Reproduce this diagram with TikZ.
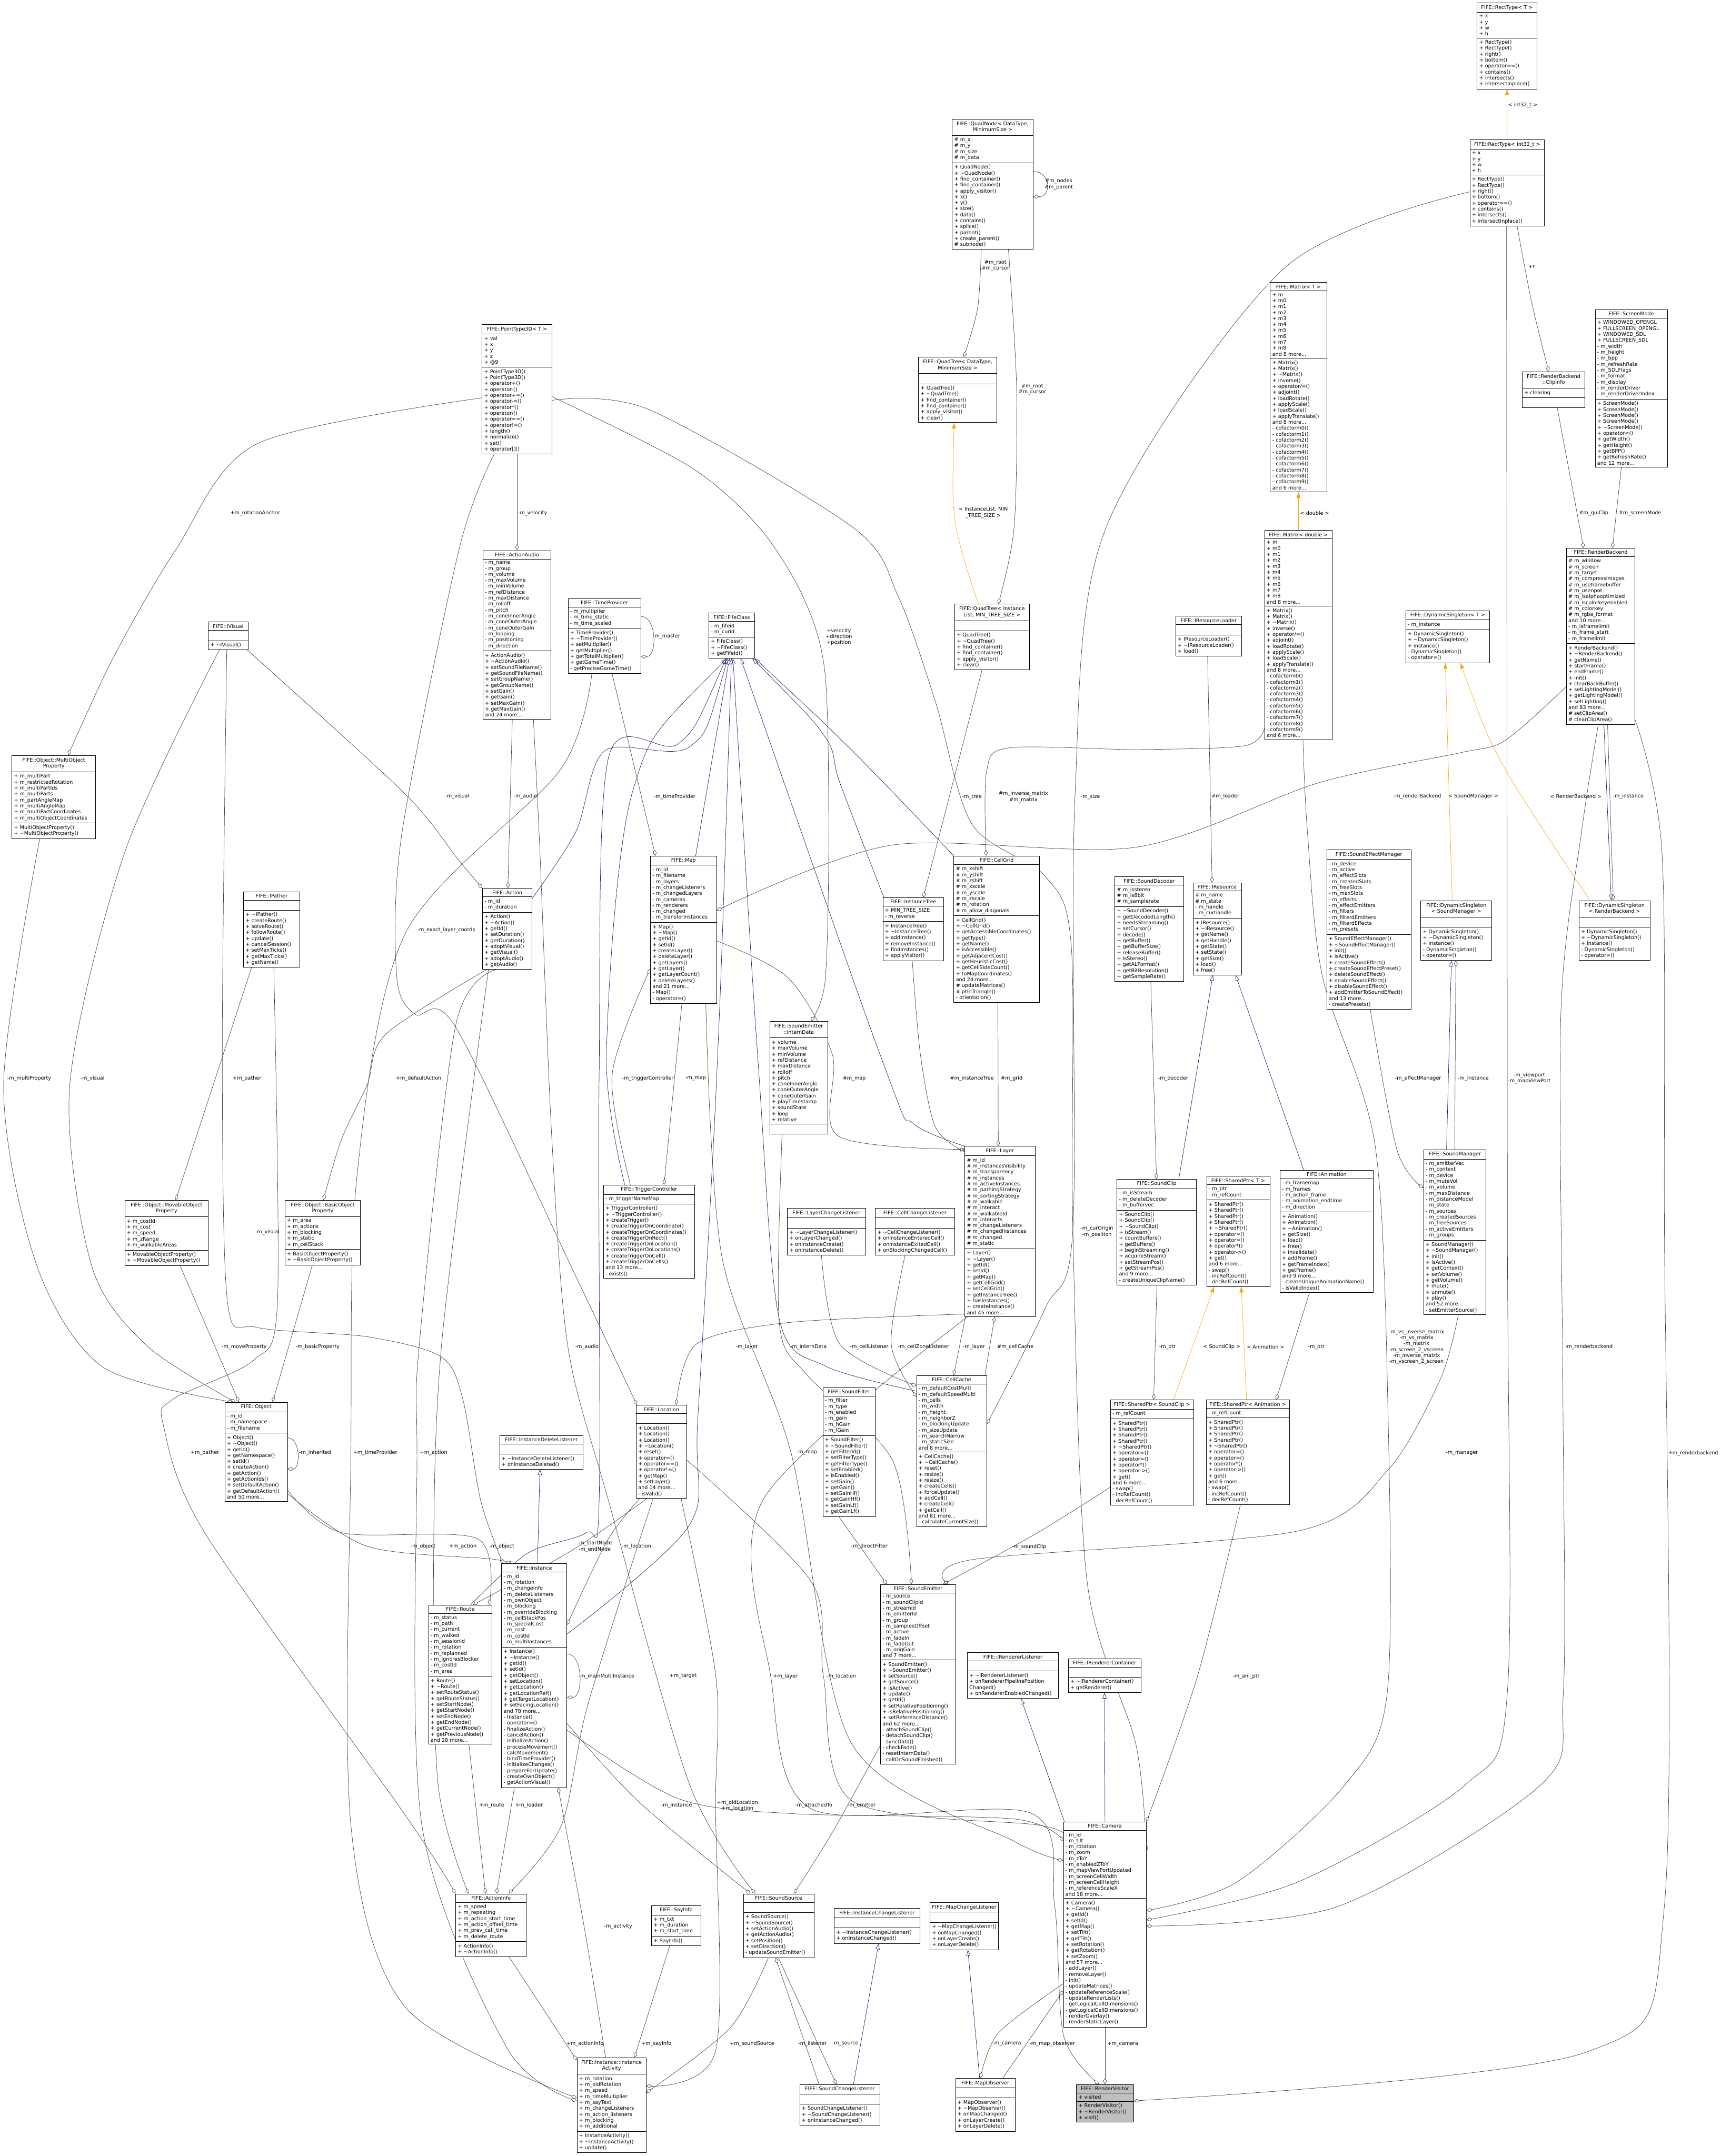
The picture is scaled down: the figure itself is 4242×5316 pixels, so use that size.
\documentclass[tikz,border=0pt]{standalone}
\usepackage{fontspec}
\usetikzlibrary{shapes.multipart,arrows.meta,backgrounds}
\newfontfamily\dxfamily{DejaVu Sans}
\newcommand\dxfont{\dxfamily\fontsize{12.5}{14.7}\selectfont}
\newcommand\ttl[1]{\begin{tabular}{@{}c@{}}#1\end{tabular}}
\definecolor{edgegray}{HTML}{404040}
\definecolor{inhblue}{HTML}{191970}
\definecolor{tplorange}{HTML}{FFA500}
\definecolor{hlgray}{HTML}{BFBFBF}
% repeated member lists
\newcommand\rectmeths{+ RectType()\\+ RectType()\\+ right()\\+ bottom()\\+ operator==()\\+ contains()\\+ intersects()\\+ intersectInplace()}
\newcommand\qtreemeths{+ QuadTree()\\+ \char126QuadTree()\\+ find\char95container()\\+ find\char95container()\\+ apply\char95visitor()\\+ clear()}
\newcommand\matattrs{+ m\\+ m0\\+ m1\\+ m2\\+ m3\\+ m4\\+ m5\\+ m6\\+ m7\\+ m8\\and 8 more...}
\newcommand\matmeths{+ Matrix()\\+ Matrix()\\+ \char126Matrix()\\+ inverse()\\+ operator/=()\\+ adjoint()\\+ loadRotate()\\+ applyScale()\\+ loadScale()\\+ applyTranslate()\\and 8 more...\\- cofactorm0()\\- cofactorm1()\\- cofactorm2()\\- cofactorm3()\\- cofactorm4()\\- cofactorm5()\\- cofactorm6()\\- cofactorm7()\\- cofactorm8()\\- cofactorm9()\\and 6 more...}
\newcommand\dsmeths{+ DynamicSingleton()\\+ \char126DynamicSingleton()\\+ instance()\\- DynamicSingleton()\\- operator=()}
\newcommand\sptrmeths{+ SharedPtr()\\+ SharedPtr()\\+ SharedPtr()\\+ SharedPtr()\\+ \char126SharedPtr()\\+ operator=()\\+ operator=()\\+ operator*()\\+ operator->()\\+ get()\\and 6 more...\\- swap()\\- incRefCount()\\- decRefCount()}
\begin{document}
\catcode`\_=12
\catcode`\~=12
\begin{tikzpicture}[x=1pt,y=1pt,
  cls/.style={draw, line width=1.1pt, fill=white, rectangle split, rectangle split parts=3,
    rectangle split part align={center,left,left}, rectangle split ignore empty parts=false,
    rectangle split empty part height=10pt, rectangle split empty part depth=4pt,
    align=left, inner xsep=5pt, inner ysep=5pt, anchor=north west, font=\dxfont},
  agg/.style={edgegray, line width=0.9pt, -{Diamond[open,length=15pt,width=9pt]}},
  inh/.style={inhblue, line width=0.9pt, {Triangle[open,length=14pt,width=10pt]}-},
  tpl/.style={tplorange, line width=0.9pt, {Triangle[length=14pt,width=10pt]}-},
  lbl/.style={font=\dxfont, align=center, inner sep=1pt}]
\useasboundingbox (0,0) rectangle (4242,-5316);

% classes, top rows
\node[cls, minimum width=147] (rectT) at (3641,-7) {FIFE::RectType< T >\nodepart{two}+ x\\+ y\\+ w\\+ h\nodepart{three}\rectmeths};
\node[cls, minimum width=184] (rect32) at (3623,-344) {FIFE::RectType< int32_t >\nodepart{two}+ x\\+ y\\+ w\\+ h\nodepart{three}\rectmeths};
\node[cls, minimum width=199] (qnode) at (2347,-293) {\ttl{FIFE::QuadNode< DataType,\\MinimumSize >}\nodepart{two}\# m_x\\\# m_y\\\# m_size\\\# m_data\nodepart{three}+ QuadNode()\\+ ~QuadNode()\\+ find_container()\\+ find_container()\\+ apply_visitor()\\+ x()\\+ y()\\+ size()\\+ data()\\+ contains()\\+ splice()\\+ parent()\\+ create_parent()\\\# subnode()};
\node[cls, minimum width=193] (qtreeDT) at (2264,-880) {\ttl{FIFE::QuadTree< DataType,\\MinimumSize >}\nodepart{two}\nodepart{three}\qtreemeths};
\node[cls, minimum width=184] (qtreeIL) at (2353,-1489) {\ttl{FIFE::QuadTree< Instance\\List, MIN_TREE_SIZE >}\nodepart{two}\nodepart{three}\qtreemeths};
\node[cls, minimum width=139] (matT) at (3131,-696) {FIFE::Matrix< T >\nodepart{two}\matattrs\nodepart{three}\matmeths};
\node[cls, minimum width=167] (matD) at (3117,-1307) {FIFE::Matrix< double >\nodepart{two}\matattrs\nodepart{three}\matmeths};
\node[cls, minimum width=178] (scrmode) at (3932,-763) {FIFE::ScreenMode\nodepart{two}+ WINDOWED_OPENGL\\+ FULLSCREEN_OPENGL\\+ WINDOWED_SDL\\+ FULLSCREEN_SDL\\- m_width\\- m_height\\- m_bpp\\- m_refreshRate\\- m_SDLFlags\\- m_format\\- m_display\\- m_renderDriver\\- m_renderDriverIndex\nodepart{three}+ ScreenMode()\\+ ScreenMode()\\+ ScreenMode()\\+ ScreenMode()\\+ ~ScreenMode()\\+ operator<()\\+ getWidth()\\+ getHeight()\\+ getBPP()\\+ getRefreshRate()\\and 12 more...};
\node[cls, minimum width=155] (clipinfo) at (3752,-916) {\ttl{FIFE::RenderBackend\\::ClipInfo}\nodepart{two}+ clearing\nodepart{three}};
\node[cls, minimum width=169] (rback) at (3861,-1351) {FIFE::RenderBackend\nodepart{two}\# m_window\\\# m_screen\\\# m_target\\\# m_compressimages\\\# m_useframebuffer\\\# m_usenpot\\\# m_isalphaoptimized\\\# m_iscolorkeyenabled\\\# m_colorkey\\\# m_rgba_format\\and 10 more...\\- m_isframelimit\\- m_frame_start\\- m_framelimit\nodepart{three}+ RenderBackend()\\+ ~RenderBackend()\\+ getName()\\+ startFrame()\\+ endFrame()\\+ init()\\+ clearBackBuffer()\\+ setLightingModel()\\+ getLightingModel()\\+ setLighting()\\and 83 more...\\\# setClipArea()\\\# clearClipArea()};
\node[cls, minimum width=172] (ptd) at (1188,-800) {FIFE::PointType3D< T >\nodepart{two}+ val\\+ x\\+ y\\+ z\\+ @9\nodepart{three}+ PointType3D()\\+ PointType3D()\\+ operator+()\\+ operator-()\\+ operator+=()\\+ operator-=()\\+ operator*()\\+ operator/()\\+ operator==()\\+ operator!=()\\+ length()\\+ normalize()\\+ set()\\+ operator[]()};
\node[cls, minimum width=168] (audio) at (1190,-1357) {FIFE::ActionAudio\nodepart{two}- m_name\\- m_group\\- m_volume\\- m_maxVolume\\- m_minVolume\\- m_refDistance\\- m_maxDistance\\- m_rolloff\\- m_pitch\\- m_coneInnerAngle\\- m_coneOuterAngle\\- m_coneOuterGain\\- m_looping\\- m_positioning\\- m_direction\nodepart{three}+ ActionAudio()\\+ ~ActionAudio()\\+ setSoundFileName()\\+ getSoundFileName()\\+ setGroupName()\\+ getGroupName()\\+ setGain()\\+ getGain()\\+ setMaxGain()\\+ getMaxGain()\\and 24 more...};
\node[cls, minimum width=98] (ivisual) at (513,-1533) {FIFE::IVisual\nodepart{two}\nodepart{three}+ ~IVisual()};
\node[cls, minimum width=206] (multiprop) at (29,-1862) {\ttl{FIFE::Object::MultiObject\\Property}\nodepart{two}+ m_multiPart\\+ m_restrictedRotation\\+ m_multiPartIds\\+ m_multiParts\\+ m_partAngleMap\\+ m_multiAngleMap\\+ m_multiPartCoordinates\\+ m_multiObjectCoordinates\nodepart{three}+ MultiObjectProperty()\\+ ~MultiObjectProperty()};
\node[cls, minimum width=179] (tprov) at (1400,-1475) {FIFE::TimeProvider\nodepart{two}- m_multiplier\\- m_time_static\\- m_time_scaled\nodepart{three}+ TimeProvider()\\+ ~TimeProvider()\\+ setMultiplier()\\+ getMultiplier()\\+ getTotalMultiplier()\\+ getGameTime()\\- getPreciseGameTime()};
\node[cls, minimum width=113] (fife) at (1747,-1511) {FIFE::FifeClass\nodepart{two}- m_fifeid\\- m_curid\nodepart{three}+ FifeClass()\\+ ~FifeClass()\\+ getFifeId()};
\node[cls, minimum width=162] (resloader) at (2898,-1519) {FIFE::IResourceLoader\nodepart{two}\nodepart{three}+ IResourceLoader()\\+ ~IResourceLoader()\\+ load()};
\node[cls, minimum width=207] (dsT) at (3465,-1505) {FIFE::DynamicSingleton< T >\nodepart{two}- m_instance\nodepart{three}\dsmeths};

% middle rows
\node[cls, minimum width=163] (map) at (1603,-2110) {FIFE::Map\nodepart{two}- m_id\\- m_filename\\- m_layers\\- m_changeListeners\\- m_changedLayers\\- m_cameras\\- m_renderers\\- m_changed\\- m_transferInstances\nodepart{three}+ Map()\\+ ~Map()\\+ getId()\\+ setId()\\+ createLayer()\\+ deleteLayer()\\+ getLayers()\\+ getLayer()\\+ getLayerCount()\\+ deleteLayers()\\and 21 more...\\- Map()\\- operator=()};
\node[cls, minimum width=150] (itree) at (2176,-2213) {FIFE::InstanceTree\nodepart{two}+ MIN_TREE_SIZE\\- m_reverse\nodepart{three}+ InstanceTree()\\+ ~InstanceTree()\\+ addInstance()\\+ removeInstance()\\+ findInstances()\\+ applyVisitor()};
\node[cls, minimum width=211] (cellgrid) at (2351,-2110) {FIFE::CellGrid\nodepart{two}\# m_xshift\\\# m_yshift\\\# m_zshift\\\# m_xscale\\\# m_yscale\\\# m_zscale\\\# m_rotation\\\# m_allow_diagonals\nodepart{three}+ CellGrid()\\+ ~CellGrid()\\+ getAccessibleCoordinates()\\+ getType()\\+ getName()\\+ isAccessible()\\+ getAdjacentCost()\\+ getHeuristicCost()\\+ getCellSideCount()\\+ toMapCoordinates()\\and 24 more...\\\# updateMatrices()\\\# ptInTriangle()\\- orientation()};
\node[cls, minimum width=169] (sdecoder) at (2748,-2161) {FIFE::SoundDecoder\nodepart{two}\# m_isstereo\\\# m_is8bit\\\# m_samplerate\nodepart{three}+ ~SoundDecoder()\\+ getDecodedLength()\\+ needsStreaming()\\+ setCursor()\\+ decode()\\+ getBuffer()\\+ getBufferSize()\\+ releaseBuffer()\\+ isStereo()\\+ getALFormat()\\+ getBitResolution()\\+ getSampleRate()};
\node[cls, minimum width=119] (iresource) at (2941,-2176) {FIFE::IResource\nodepart{two}\# m_name\\\# m_state\\- m_handle\\- m_curhandle\nodepart{three}+ IResource()\\+ ~IResource()\\+ getName()\\+ getHandle()\\+ getState()\\+ setState()\\+ getSize()\\+ load()\\+ free()};
\node[cls, minimum width=208] (effectmgr) at (3270,-2095) {FIFE::SoundEffectManager\nodepart{two}- m_device\\- m_active\\- m_effectSlots\\- m_createdSlots\\- m_freeSlots\\- m_maxSlots\\- m_effects\\- m_effectEmitters\\- m_filters\\- m_filterdEmitters\\- m_filterdEffects\\- m_presets\nodepart{three}+ SoundEffectManager()\\+ ~SoundEffectManager()\\+ init()\\+ isActive()\\+ createSoundEffect()\\+ createSoundEffectPreset()\\+ deleteSoundEffect()\\+ enableSoundEffect()\\+ disableSoundEffect()\\+ addEmitterToSoundEffect()\\and 13 more...\\- createPresets()};
\node[cls, minimum width=175] (dsSM) at (3502,-2220) {\ttl{FIFE::DynamicSingleton\\< SoundManager >}\nodepart{two}\nodepart{three}\dsmeths};
\node[cls, minimum width=175] (dsRB) at (3892,-2220) {\ttl{FIFE::DynamicSingleton\\< RenderBackend >}\nodepart{two}\nodepart{three}\dsmeths};
\node[cls, minimum width=138] (ipather) at (600,-2198) {FIFE::IPather\nodepart{two}\nodepart{three}+ ~IPather()\\+ createRoute()\\+ solveRoute()\\+ followRoute()\\+ update()\\+ cancelSession()\\+ setMaxTicks()\\+ getMaxTicks()\\+ getName()};
\node[cls, minimum width=122] (action) at (1189,-2190) {FIFE::Action\nodepart{two}- m_id\\- m_duration\nodepart{three}+ Action()\\+ ~Action()\\+ getId()\\+ setDuration()\\+ getDuration()\\+ adoptVisual()\\+ getVisual()\\+ adoptAudio()\\+ getAudio()};
\node[cls, minimum width=143] (idata) at (1897,-2518) {\ttl{FIFE::SoundEmitter\\::internData}\nodepart{two}+ volume\\+ maxVolume\\+ minVolume\\+ refDistance\\+ maxDistance\\+ rolloff\\+ pitch\\+ coneInnerAngle\\+ coneOuterAngle\\+ coneOuterGain\\+ playTimestamp\\+ soundState\\+ loop\\+ relative\nodepart{three}};
\node[cls, minimum width=173] (layer) at (2378,-2826) {FIFE::Layer\nodepart{two}\# m_id\\\# m_instancesVisibility\\\# m_transparency\\\# m_instances\\\# m_activeInstances\\\# m_pathingStrategy\\\# m_sortingStrategy\\\# m_walkable\\\# m_interact\\\# m_walkableId\\\# m_interacts\\\# m_changeListeners\\\# m_changedInstances\\\# m_changed\\\# m_static\nodepart{three}+ Layer()\\+ ~Layer()\\+ getId()\\+ setId()\\+ getMap()\\+ getCellGrid()\\+ setCellGrid()\\+ getInstanceTree()\\+ hasInstances()\\+ createInstance()\\and 45 more...};
\node[cls, minimum width=225] (trigger) at (1487,-2921) {FIFE::TriggerController\nodepart{two}- m_triggerNameMap\nodepart{three}+ TriggerController()\\+ ~TriggerController()\\+ createTrigger()\\+ createTriggerOnCoordinate()\\+ createTriggerOnCoordinates()\\+ createTriggerOnRect()\\+ createTriggerOnLocation()\\+ createTriggerOnLocations()\\+ createTriggerOnCell()\\+ createTriggerOnCells()\\and 13 more...\\- exists()};
\node[cls, minimum width=194] (lclisten) at (1940,-2979) {FIFE::LayerChangeListener\nodepart{two}\nodepart{three}+ ~LayerChangeListener()\\+ onLayerChanged()\\+ onInstanceCreate()\\+ onInstanceDelete()};
\node[cls, minimum width=196] (cclisten) at (2157,-2979) {FIFE::CellChangeListener\nodepart{two}\nodepart{three}+ ~CellChangeListener()\\+ onInstanceEnteredCell()\\+ onInstanceExitedCell()\\+ onBlockingChangedCell()};
\node[cls, minimum width=154] (soundmgr) at (3509,-2834) {FIFE::SoundManager\nodepart{two}- m_emitterVec\\- m_context\\- m_device\\- m_muteVol\\- m_volume\\- m_maxDistance\\- m_distanceModel\\- m_state\\- m_sources\\- m_createdSources\\- m_freeSources\\- m_activeEmitters\\- m_groups\nodepart{three}+ SoundManager()\\+ ~SoundManager()\\+ init()\\+ isActive()\\+ getContext()\\+ setVolume()\\+ getVolume()\\+ mute()\\+ unmute()\\+ play()\\and 52 more...\\- setEmitterSource()};
\node[cls, minimum width=196] (soundclip) at (2753,-2907) {FIFE::SoundClip\nodepart{two}- m_isStream\\- m_deleteDecoder\\- m_buffervec\nodepart{three}+ SoundClip()\\+ SoundClip()\\+ ~SoundClip()\\+ isStream()\\+ countBuffers()\\+ getBuffers()\\+ beginStreaming()\\+ acquireStream()\\+ setStreamPos()\\+ getStreamPos()\\and 9 more...\\- createUniqueClipName()};
\node[cls, minimum width=156] (sptrT) at (2974,-2900) {FIFE::SharedPtr< T >\nodepart{two}- m_ptr\\- m_refCount\nodepart{three}\sptrmeths};
\node[cls, minimum width=230] (anim) at (3155,-2885) {FIFE::Animation\nodepart{two}- m_framemap\\- m_frames\\- m_action_frame\\- m_animation_endtime\\- m_direction\nodepart{three}+ Animation()\\+ Animation()\\+ ~Animation()\\+ getSize()\\+ load()\\+ free()\\+ invalidate()\\+ addFrame()\\+ getFrameIndex()\\+ getFrame()\\and 9 more...\\- createUniqueAnimationName()\\- isValidIndex()};
\node[cls, minimum width=206] (moveprop) at (307,-2959) {\ttl{FIFE::Object::MovableObject\\Property}\nodepart{two}+ m_costId\\+ m_cost\\+ m_speed\\+ m_zRange\\+ m_walkableAreas\nodepart{three}+ MovableObjectProperty()\\+ ~MovableObjectProperty()};
\node[cls, minimum width=186] (basicprop) at (702,-2959) {\ttl{FIFE::Object::BasicObject\\Property}\nodepart{two}+ m_area\\+ m_actions\\+ m_blocking\\+ m_static\\+ m_cellStack\nodepart{three}+ BasicObjectProperty()\\+ ~BasicObjectProperty()};

% lower rows
\node[cls, minimum width=173] (cellcache) at (2259,-3391) {FIFE::CellCache\nodepart{two}- m_defaultCostMulti\\- m_defaultSpeedMulti\\- m_cells\\- m_width\\- m_height\\- m_neighborZ\\- m_blockingUpdate\\- m_sizeUpdate\\- m_searchNarrow\\- m_staticSize\\and 8 more...\nodepart{three}+ CellCache()\\+ ~CellCache()\\+ reset()\\+ resize()\\+ resize()\\+ createCells()\\+ forceUpdate()\\+ addCell()\\+ createCell()\\+ getCell()\\and 81 more...\\- calculateCurrentSize()};
\node[cls, minimum width=124] (location) at (1568,-3464) {FIFE::Location\nodepart{two}\nodepart{three}+ Location()\\+ Location()\\+ Location()\\+ ~Location()\\+ reset()\\+ operator=()\\+ operator==()\\+ operator!=()\\+ getMap()\\+ setLayer()\\and 14 more...\\- isValid()};
\node[cls, minimum width=129] (sfilter) at (2028,-3421) {FIFE::SoundFilter\nodepart{two}- m_filter\\- m_type\\- m_enabled\\- m_gain\\- m_hGain\\- m_lGain\nodepart{three}+ SoundFilter()\\+ ~SoundFilter()\\+ getFilterId()\\+ setFilterType()\\+ getFilterType()\\+ setEnabled()\\+ isEnabled()\\+ setGain()\\+ getGain()\\+ setGainHf()\\+ getGainHf()\\+ setGainLf()\\+ getGainLf()};
\node[cls, minimum width=205] (sptrSC) at (2737,-3451) {FIFE::SharedPtr< SoundClip >\nodepart{two}- m_refCount\nodepart{three}\sptrmeths};
\node[cls, minimum width=205] (sptrAN) at (2973,-3451) {FIFE::SharedPtr< Animation >\nodepart{two}- m_refCount\nodepart{three}\sptrmeths};
\node[cls, minimum width=154] (object) at (554,-3457) {FIFE::Object\nodepart{two}- m_id\\- m_namespace\\- m_filename\nodepart{three}+ Object()\\+ ~Object()\\+ getId()\\+ getNamespace()\\+ setId()\\+ createAction()\\+ getAction()\\+ getActionIds()\\+ setDefaultAction()\\+ getDefaultAction()\\and 50 more...};
\node[cls, minimum width=206] (idlisten) at (1231,-3539) {FIFE::InstanceDeleteListener\nodepart{two}\nodepart{three}+ ~InstanceDeleteListener()\\+ onInstanceDeleted()};
\node[cls, minimum width=161] (instance) at (1236,-3855) {FIFE::Instance\nodepart{two}- m_id\\- m_rotation\\- m_changeInfo\\- m_deleteListeners\\- m_ownObject\\- m_blocking\\- m_overrideBlocking\\- m_cellStackPos\\- m_specialCost\\- m_cost\\- m_costId\\- m_multiInstances\nodepart{three}+ Instance()\\+ ~Instance()\\+ getId()\\+ setId()\\+ getObject()\\+ setLocation()\\+ getLocation()\\+ getLocationRef()\\+ getTargetLocation()\\+ setFacingLocation()\\and 78 more...\\- Instance()\\- operator=()\\- finalizeAction()\\- cancelAction()\\- initializeAction()\\- processMovement()\\- calcMovement()\\- bindTimeProvider()\\- initializeChanges()\\- prepareForUpdate()\\- createOwnObject()\\- getActionVisual()};
\node[cls, minimum width=156] (route) at (1056,-3957) {FIFE::Route\nodepart{two}- m_status\\- m_path\\- m_current\\- m_walked\\- m_sessionId\\- m_rotation\\- m_replanned\\- m_ignoresBlocker\\- m_costId\\- m_area\nodepart{three}+ Route()\\+ ~Route()\\+ setRouteStatus()\\+ getRouteStatus()\\+ setStartNode()\\+ getStartNode()\\+ setEndNode()\\+ getEndNode()\\+ getCurrentNode()\\+ getPreviousNode()\\and 28 more...};
\node[cls, minimum width=186] (semitter) at (2170,-3906) {FIFE::SoundEmitter\nodepart{two}- m_source\\- m_soundClipId\\- m_streamId\\- m_emitterId\\- m_group\\- m_samplesOffset\\- m_active\\- m_fadeIn\\- m_fadeOut\\- m_origGain\\and 7 more...\nodepart{three}+ SoundEmitter()\\+ ~SoundEmitter()\\+ setSource()\\+ getSource()\\+ isActive()\\+ update()\\+ getId()\\+ setRelativePositioning()\\+ isRelativePositioning()\\+ setReferenceDistance()\\and 62 more...\\- attachSoundClip()\\- detachSoundClip()\\- syncData()\\- checkFade()\\- resetInternData()\\- callOnSoundFinished()};
\node[cls, minimum width=225] (irlisten) at (2384,-4074) {FIFE::IRendererListener\nodepart{two}\nodepart{three}+ ~IRendererListener()\\+ onRendererPipelinePosition\\Changed()\\+ onRendererEnabledChanged()};
\node[cls, minimum width=179] (ircont) at (2633,-4089) {FIFE::IRendererContainer\nodepart{two}\nodepart{three}+ ~IRendererContainer()\\+ getRenderer()};
\node[cls, minimum width=204] (camera) at (2621,-4492) {FIFE::Camera\nodepart{two}- m_id\\- m_tilt\\- m_rotation\\- m_zoom\\- m_zToY\\- m_enabledZToY\\- m_mapViewPortUpdated\\- m_screenCellWidth\\- m_screenCellHeight\\- m_referenceScaleX\\and 18 more...\nodepart{three}+ Camera()\\+ ~Camera()\\+ getId()\\+ setId()\\+ getMap()\\+ setTilt()\\+ getTilt()\\+ setRotation()\\+ getRotation()\\+ setZoom()\\and 57 more...\\- addLayer()\\- removeLayer()\\- init()\\- updateMatrices()\\- updateReferenceScale()\\- updateRenderLists()\\- getLogicalCellDimensions()\\- getLogicalCellDimensions()\\- renderOverlay()\\- renderStaticLayer()};
\node[cls, minimum width=174] (actinfo) at (1123,-4669) {FIFE::ActionInfo\nodepart{two}+ m_speed\\+ m_repeating\\+ m_action_start_time\\+ m_action_offset_time\\+ m_prev_call_time\\+ m_delete_route\nodepart{three}+ ActionInfo()\\+ ~ActionInfo()};
\node[cls, minimum width=121] (sayinfo) at (1606,-4698) {FIFE::SayInfo\nodepart{two}+ m_txt\\+ m_duration\\+ m_start_time\nodepart{three}+ SayInfo()};
\node[cls, minimum width=174] (ssource) at (1832,-4669) {FIFE::SoundSource\nodepart{two}\nodepart{three}+ SoundSource()\\+ ~SoundSource()\\+ setActionAudio()\\+ getActionAudio()\\+ setPosition()\\+ setDirection()\\- updateSoundEmitter()};
\node[cls, minimum width=211] (iclisten) at (2056,-4705) {FIFE::InstanceChangeListener\nodepart{two}\nodepart{three}+ ~InstanceChangeListener()\\+ onInstanceChanged()};
\node[cls, minimum width=154] (mclisten) at (2292,-4691) {FIFE::MapChangeListener\nodepart{two}\nodepart{three}+ ~MapChangeListener()\\+ onMapChanged()\\+ onLayerCreate()\\+ onLayerDelete()};
\node[cls, minimum width=170] (activity) at (1422,-5073) {\ttl{FIFE::Instance::Instance\\Activity}\nodepart{two}+ m_rotation\\+ m_oldRotation\\+ m_speed\\+ m_timeMultiplier\\+ m_sayText\\+ m_changeListeners\\+ m_action_listeners\\+ m_blocking\\+ m_additional\nodepart{three}+ InstanceActivity()\\+ ~InstanceActivity()\\+ update()};
\node[cls, minimum width=198] (sclisten) at (1971,-5139) {FIFE::SoundChangeListener\nodepart{two}\nodepart{three}+ SoundChangeListener()\\+ ~SoundChangeListener()\\+ onInstanceChanged()};
\node[cls, minimum width=147] (mobserver) at (2355,-5124) {FIFE::MapObserver\nodepart{two}\nodepart{three}+ MapObserver()\\+ ~MapObserver()\\+ onMapChanged()\\+ onLayerCreate()\\+ onLayerDelete()};
\node[cls, minimum width=141, fill=hlgray] (rvisitor) at (2653,-5139) {FIFE::RenderVisitor\nodepart{two}+ visited\nodepart{three}+ RenderVisitor()\\+ ~RenderVisitor()\\+ visit()};

% edge labels
\node[lbl] (lint32) at (3754,-260) {< int32_t >};
\node[lbl] (lnodes) at (2610,-454) {\#m_nodes\\\#m_parent};
\node[lbl] (lroot1) at (2454,-655) {\#m_root\\\#m_cursor};
\node[lbl] (lroot2) at (2545,-960) {\#m_root\\\#m_cursor};
\node[lbl] (linstlist) at (2424,-1264) {< InstanceList, MIN\\_TREE_SIZE >};
\node[lbl] (ldouble) at (3241,-1265) {< double >};
\node[lbl] (lr) at (3776,-657) {+r};
\node[lbl] (lguiclip) at (3929,-1265) {\#m_guiClip};
\node[lbl] (lscreen) at (4043,-1265) {\#m_screenMode};
\node[lbl] (lvelocity) at (1313,-1265) {-m_velocity};
\node[lbl] (lanchor) at (629,-1265) {+m_rotationAnchor};
\node[lbl] (ldir) at (2068,-1570) {+velocity\\+direction\\+position};
\node[lbl] (lexact) at (1100,-2293) {-m_exact_layer_coords};
\node[lbl] (lmaster) at (1643,-1570) {-m_master};
\node[lbl] (ltprov) at (1663,-1965) {-m_timeProvider};
\node[lbl] (ltprov2) at (925,-3582) {+m_timeProvider};
\node[lbl] (laction1) at (1069,-3582) {+m_action};
\node[lbl] (laction2) at (1141,-3813) {+m_action};
\node[lbl] (ldefault) at (1032,-2659) {+m_defaultAction};
\node[lbl] (lvisual1) at (1127,-1964) {-m_visual};
\node[lbl] (lvisual2) at (228,-2659) {-m_visual};
\node[lbl] (lvisual3) at (659,-3038) {-m_visual};
\node[lbl] (laudio1) at (1295,-1964) {-m_audio};
\node[lbl] (laudio2) at (1447,-3321) {-m_audio};
\node[lbl] (lmulti) at (72,-2659) {-m_multiProperty};
\node[lbl] (lpather1) at (609,-2659) {+m_pather};
\node[lbl] (lpather2) at (505,-3582) {+m_pather};
\node[lbl] (lmove) at (602,-3321) {-m_moveProperty};
\node[lbl] (lbasic) at (783,-3321) {-m_basicProperty};
\node[lbl] (linherit) at (777,-3582) {-m_inherited};
\node[lbl] (lobject1) at (1043,-3813) {-m_object};
\node[lbl] (lobject2) at (1237,-3813) {-m_object};
\node[lbl] (lendnode) at (1466,-3813) {-m_startNode\\-m_endNode};
\node[lbl] (llocation1) at (1569,-3813) {-m_location};
\node[lbl] (lroute) at (1212,-4452) {+m_route};
\node[lbl] (lleader) at (1304,-4452) {+m_leader};
\node[lbl] (lmainmulti) at (1495,-4133) {-m_mainMultiInstance};
\node[lbl] (ltarget) at (1684,-4133) {+m_target};
\node[lbl] (lactivity) at (1524,-4750) {-m_activity};
\node[lbl] (lactinfo) at (1442,-5040) {+m_actionInfo};
\node[lbl] (lsayinfo) at (1618,-5040) {+m_sayInfo};
\node[lbl] (lssource) at (1854,-5040) {+m_soundSource};
\node[lbl] (linstance) at (1668,-4452) {-m_instance};
\node[lbl] (loldloc) at (1818,-4452) {+m_oldLocation\\+m_location};
\node[lbl] (llayer1) at (1936,-4133) {+m_layer};
\node[lbl] (llocation2) at (2074,-4133) {-m_location};
\node[lbl] (lattached) at (2006,-4452) {-m_attachedTo};
\node[lbl] (lmap1) at (1989,-3582) {-m_map};
\node[lbl] (llayer2) at (1841,-3321) {-m_layer};
\node[lbl] (lcelllis) at (2143,-3321) {-m_cellListener};
\node[lbl] (lzonelis) at (2277,-3321) {-m_cellZoneListener};
\node[lbl] (llayer3) at (2401,-3321) {-m_layer};
\node[lbl] (lcellcache) at (2503,-3321) {\#m_cellCache};
\node[lbl] (lmap2) at (1715,-2659) {-m_map};
\node[lbl] (ltrigger) at (1597,-2659) {-m_triggerController};
\node[lbl] (lmap3) at (2106,-2659) {\#m_map};
\node[lbl] (litree) at (2396,-2659) {\#m_instanceTree};
\node[lbl] (lgrid) at (2494,-2659) {\#m_grid};
\node[lbl] (ltree) at (2396,-1965) {-m_tree};
\node[lbl] (lmatrix) at (2523,-1965) {\#m_inverse_matrix\\\#m_matrix};
\node[lbl] (lsize) at (2688,-1965) {-m_size};
\node[lbl] (lviewport) at (3770,-2659) {-m_viewport\\-m_mapViewPort};
\node[lbl] (lvsmatrix) at (3492,-3321) {-m_vs_inverse_matrix\\-m_vs_matrix\\-m_matrix\\-m_screen_2_vscreen\\-m_inverse_matrix\\-m_vscreen_2_screen};
\node[lbl] (lrback1) at (3917,-3321) {-m_renderbackend};
\node[lbl] (lrback2) at (4174,-3583) {+m_renderbackend};
\node[lbl] (lrback3) at (3494,-1964) {-m_renderBackend};
\node[lbl] (linstrb) at (4014,-1964) {-m_instance};
\node[lbl] (ltplrb) at (3885,-1964) {< RenderBackend >};
\node[lbl] (ltplsm) at (3632,-1964) {< SoundManager >};
\node[lbl] (linstsm) at (3632,-2659) {-m_instance};
\node[lbl] (leffect) at (3496,-2659) {-m_effectManager};
\node[lbl] (lloader) at (3021,-1964) {\#m_loader};
\node[lbl] (ldecoder) at (2892,-2659) {-m_decoder};
\node[lbl] (lptr1) at (2878,-3321) {-m_ptr};
\node[lbl] (ltplsc) at (3012,-3321) {< SoundClip >};
\node[lbl] (ltplan) at (3120,-3321) {< Animation >};
\node[lbl] (lptr2) at (3245,-3321) {-m_ptr};
\node[lbl] (lclip) at (2537,-3814) {-m_soundClip};
\node[lbl] (lmanager) at (3604,-3583) {-m_manager};
\node[lbl] (lfilter) at (2143,-3813) {-m_directFilter};
\node[lbl] (lintern) at (1993,-3321) {-m_internData};
\node[lbl] (lemitter) at (2124,-4452) {-m_emitter};
\node[lbl] (lorigin) at (2704,-3037) {-m_curOrigin\\-m_position};
\node[lbl] (laniptr) at (3072,-4133) {-m_ani_ptr};
\node[lbl] (lcamera1) at (2482,-5040) {-m_camera};
\node[lbl] (lobserver) at (2594,-5040) {-m_map_observer};
\node[lbl] (lcamera2) at (2768,-5040) {+m_camera};
\node[lbl] (lsource) at (2084,-5040) {-m_source};
\node[lbl] (llistener) at (2003,-5040) {-m_listener};

\begin{pgfonlayer}{background}
\fill[white] (0,0) rectangle (4242,-5316);
% template instances
\draw[tpl] (rectT.south) -- (rect32.north);
\draw[tpl] plot[smooth] coordinates {([xshift=88]qtreeDT.south west) (2356,-1293) ([xshift=59]qtreeIL.north west)};
\draw[tpl] (matT.south) -- (matD.north);
\draw[tpl] plot[smooth] coordinates {([xshift=135]dsT.south west) (3710,-1895) ([xshift=28]dsRB.north west)};
\draw[tpl] ([xshift=98]dsT.south west) -- ([xshift=78]dsSM.north west);
\draw[tpl] ([xshift=19]sptrT.south west) -- ([xshift=156]sptrSC.north west);
\draw[tpl] ([xshift=86]sptrT.south west) -- ([xshift=100]sptrAN.north west);
% inheritance
\draw[inh] ([xshift=80]dsRB.north west) -- ([xshift=93]rback.south west);
\draw[inh] ([xshift=76]dsSM.south west) -- ([xshift=57]soundmgr.north west);
\draw[inh] ([xshift=49]iresource.south west) -- ([xshift=153]soundclip.north west);
\draw[inh] ([xshift=105]iresource.south west) -- ([xshift=59]anim.north west);
\draw[inh] ([xshift=94]mclisten.south west) -- ([xshift=60]mobserver.north west);
\draw[inh] ([xshift=110]iclisten.south west) -- ([xshift=133]sclisten.north west);
\draw[inh] ([xshift=133]irlisten.south west) -- ([xshift=3]camera.north west);
\draw[inh] ([xshift=90]ircont.south west) -- ([xshift=103]camera.north west);
\draw[inh] ([xshift=100]idlisten.south west) -- ([xshift=89]instance.north west);
\draw[inh] plot[smooth] coordinates {([xshift=47]fife.south west) (1699,-1842) (1491,-1851) (1420,-2050) ([yshift=-25]action.north east)};
\draw[inh] plot[smooth] coordinates {([xshift=43]fife.south west) (1672,-1834) (1500,-1868) (1477,-2650) (1477,-3700) (1445,-3779) (1300,-3830) ([xshift=104]route.north west)};
\draw[inh] ([xshift=51]fife.south west) -- ([xshift=112]map.north west);
\draw[inh] plot[smooth] coordinates {([xshift=45]fife.south west) (1560,-1950) (1495,-2600) ([xshift=53]trigger.north west)};
\draw[inh] plot[smooth] coordinates {([xshift=56]fife.south west) (1767,-2650) (1720,-3500) (1699,-3761) ([yshift=-174]instance.north east)};
\draw[inh] plot[smooth] coordinates {([xshift=60]fife.south west) (1871,-2650) (1921,-3252) (2034,-3368) ([yshift=-39]cellcache.north west)};
\draw[inh] plot[smooth] coordinates {([xshift=79]fife.south west) (2188,-2650) (2251,-2770) (layer.north west)};
\draw[inh] plot[smooth] coordinates {([xshift=108]fife.south west) (2034,-1817) (2070,-1929) ([xshift=3]itree.north west)};
\draw[inh] plot[smooth] coordinates {(fife.south east) (2100,-1850) (cellgrid.north west)};
% members
\draw[agg] ([yshift=-130]qnode.north east) .. controls +(45,0) and +(45,0) .. ([yshift=-192]qnode.north east);
\draw[agg] plot[smooth] coordinates {([xshift=72]qnode.south west) (2410,-760) ([xshift=112]qtreeDT.north west)};
\draw[agg] plot[smooth] coordinates {([xshift=139]qnode.south west) (2506,-953) (2500,-1300) ([xshift=108]qtreeIL.north west)};
\draw[agg] plot[smooth] coordinates {([xshift=117]rect32.south west) (3776,-746) ([xshift=66]clipinfo.north west)};
\draw[agg] ([xshift=87]clipinfo.south west) -- ([xshift=43]rback.north west);
\draw[agg] ([xshift=65]scrmode.south west) -- ([xshift=114]rback.north west);
\draw[agg] (ptd.south) -- (audio.north);
\draw[agg] plot[smooth] coordinates {([yshift=-181]ptd.north west) (634,-1094) (435,-1353) (280,-1620) ([xshift=139]multiprop.north west)};
\draw[agg] plot[smooth] coordinates {([yshift=-178]ptd.north east) (1700,-1150) (1871,-1300) (1980,-1472) (2034,-1662) (2043,-2075) (2034,-2419) ([xshift=102]idata.north west)};
\draw[agg] plot[smooth] coordinates {([xshift=30]ptd.south west) (1132,-1353) (990,-2060) (978,-2407) (1023,-2501) (1123,-2532) (1420,-3148) ([xshift=2]location.north west)};
\draw[agg] ([yshift=-45]tprov.north east) .. controls +(40,0) and +(40,0) .. ([yshift=-144]tprov.north east);
\draw[agg] ([xshift=109]tprov.south west) -- ([xshift=13]map.north west);
\draw[agg] plot[smooth] coordinates {([xshift=59]tprov.south west) (1380,-1900) (1000,-2300) (880,-2900) (865,-3582) (865,-4500) (1000,-4950) ([yshift=-100]activity.north west)};
\draw[agg] plot[smooth] coordinates {([xshift=34]action.south west) (1123,-2530) (1035,-3300) (1028,-3582) (1040,-4500) (1250,-5050) ([yshift=-107]activity.north west)};
\draw[agg] plot[smooth] coordinates {([xshift=15]action.south west) (1090,-3300) (1069,-3840) (1080,-4400) ([xshift=32]actinfo.north west)};
\draw[agg] plot[smooth] coordinates {([xshift=10]action.south west) (951,-2550) (905,-2675) (842,-2809) ([xshift=95]basicprop.north west)};
\draw[agg] plot[smooth] coordinates {([xshift=96]ivisual.south west) (996,-1955) (1130,-2120) (action.north west)};
\draw[agg] plot[smooth] coordinates {([xshift=28]ivisual.south west) (308,-2100) (172,-2675) (226,-3121) (362,-3318) ([xshift=26]object.north west)};
\draw[agg] plot[smooth] coordinates {([xshift=46]ivisual.south west) (548,-2586) (561,-3211) (634,-3273) (906,-3296) (1087,-3345) (1141,-3450) (1185,-3700) ([xshift=4]instance.north west)};
\draw[agg] ([xshift=73]audio.south west) -- ([xshift=63]action.north west);
\draw[agg] plot[smooth] coordinates {([xshift=125]audio.south west) (1331,-2100) (1360,-2800) (1400,-3321) (1500,-3700) (1700,-4400) ([xshift=30]ssource.north west)};
\draw[agg] plot[smooth] coordinates {([xshift=69]multiprop.south west) (9,-2675) (91,-3121) (254,-3371) ([xshift=21]object.north west)};
\draw[agg] ([xshift=20]ipather.south west) -- ([xshift=126]moveprop.north west);
\draw[agg] plot[smooth] coordinates {([xshift=75]ipather.south west) (684,-3211) (625,-3354) (426,-3450) (403,-3515) (507,-3783) (996,-4471) (actinfo.north west)};
\draw[agg] ([xshift=137]moveprop.south west) -- ([xshift=35]object.north west);
\draw[agg] ([xshift=68]basicprop.south west) -- ([xshift=118]object.north west);
\draw[agg] ([yshift=-88]object.north east) .. controls +(32,0) and +(32,0) .. ([yshift=-165]object.north east);
\draw[agg] plot[smooth] coordinates {([yshift=-226]object.north east) (906,-3813) (1213,-3844) ([xshift=10]instance.north west)};
\draw[agg] plot[smooth] coordinates {([yshift=-218]object.north east) (842,-3779) (1177,-3794) ([xshift=150]route.north west)};
\draw[agg] plot[smooth] coordinates {([xshift=27]location.south west) (1411,-3822) ([xshift=110]route.north west)};
\draw[agg] plot[smooth] coordinates {([xshift=9]location.south west) (1497,-3799) ([yshift=-151]instance.north east)};
\draw[agg] ([xshift=100]route.south west) -- ([xshift=74]actinfo.north west);
\draw[agg] ([xshift=32]instance.south west) -- ([xshift=101]actinfo.north west);
\draw[agg] ([yshift=-223]instance.north east) .. controls +(40,0) and +(40,0) .. ([yshift=-330]instance.north east);
\draw[agg] plot[smooth] coordinates {([xshift=42]location.south west) (1450,-4200) (1383,-4503) ([xshift=131]actinfo.north west)};
\draw[agg] plot[smooth] coordinates {([xshift=71]activity.north west) (1440,-4750) ([xshift=140]instance.south west)};
\draw[agg] ([xshift=132]actinfo.south west) -- ([yshift=-7]activity.north west);
\draw[agg] ([xshift=45]sayinfo.south west) -- ([xshift=142]activity.north west);
\draw[agg] plot[smooth] coordinates {([xshift=62]ssource.south west) (1800,-5000) ([yshift=-87]activity.north east)};
\draw[agg] plot[smooth] coordinates {([yshift=-395]instance.north east) (1574,-4442) ([xshift=18]ssource.north west)};
\draw[agg] plot[smooth] coordinates {([xshift=111]location.south west) (1765,-4136) (1764,-4450) (1764,-5057) ([yshift=-70]activity.north east)};
\draw[agg] plot[smooth] coordinates {([xshift=7]layer.south west) (1880,-3700) (1900,-4133) (2000,-4460) (2540,-4470) (2600,-4700) (2622,-5019) ([xshift=56]rvisitor.north west)};
\draw[agg] plot[smooth] coordinates {([yshift=-136]location.north east) (2000,-3900) (2030,-4133) (2100,-4440) (2560,-4500) ([yshift=-36]camera.north west)};
\draw[agg] plot[smooth] coordinates {([yshift=-411]instance.north east) (1670,-4434) (1957,-4472) (2500,-4485) ([yshift=-48]camera.north west)};
\draw[agg] plot[smooth] coordinates {([xshift=137]map.south west) (1780,-3100) (1950,-3582) (2100,-4300) (2500,-4540) ([yshift=-95]camera.north west)};
\draw[agg] plot[smooth] coordinates {([yshift=7]layer.south west) (1943,-3261) (1717,-3314) ([xshift=99]location.north west)};
\draw[agg] plot[smooth] coordinates {([xshift=85]lclisten.south west) (2070,-3314) ([yshift=-26]cellcache.north west)};
\draw[agg] plot[smooth] coordinates {([xshift=74]cclisten.south west) (2197,-3314) ([yshift=-53]cellcache.north west)};
\draw[agg] ([xshift=2]layer.south west) -- ([xshift=92]cellcache.north west);
\draw[agg] ([xshift=169]cellcache.north west) -- ([xshift=74]layer.south west);
\draw[agg] ([xshift=78]map.south west) -- ([xshift=150]trigger.north west);
\draw[agg] plot[smooth] coordinates {([xshift=67]trigger.north west) (1509,-2650) ([yshift=-279]map.north west)};
\draw[agg] plot[smooth] coordinates {([yshift=-210]map.north east) (1943,-2411) (2052,-2600) (2065,-2800) ([yshift=-8]layer.north west)};
\draw[agg] plot[smooth] coordinates {([xshift=73]itree.south west) (2269,-2600) (2306,-2779) ([yshift=-14]layer.north west)};
\draw[agg] ([xshift=109]cellgrid.south west) -- ([xshift=83]layer.north west);
\draw[agg] ([xshift=68]qtreeIL.south west) -- ([xshift=100]itree.north west);
\draw[agg] plot[smooth] coordinates {([yshift=-489]matD.north west) (3067,-1839) (2800,-1848) (2487,-1844) (2432,-1903) ([xshift=80]cellgrid.north west)};
\draw[agg] plot[smooth] coordinates {([yshift=-129]rect32.north west) (3164,-663) (2727,-1300) (2650,-1965) (2645,-3029) (2577,-3225) ([yshift=-120]cellcache.north east)};
\draw[agg] plot[smooth] coordinates {([xshift=91]rect32.south west) (3716,-3000) (3716,-4172) (3613,-4400) (3200,-4640) ([yshift=-242]camera.north east)};
\draw[agg] plot[smooth] coordinates {([xshift=95]matD.south west) (3223,-2050) (3260,-2407) (3389,-2818) (3421,-3450) (3420,-4172) (3316,-4400) (3050,-4640) ([yshift=-219]camera.north east)};
\draw[agg] plot[smooth] coordinates {([xshift=79]rback.south west) (3899,-2050) (3848,-2496) (3853,-3450) (3854,-4172) (3799,-4400) (3300,-4700) ([yshift=-257]camera.north east)};
\draw[agg] plot[smooth] coordinates {([yshift=-424]rback.north east) (4097,-2100) (4103,-3000) (4103,-4700) (3910,-5060) ([yshift=-41]rvisitor.north east)};
\draw[agg] plot[smooth] coordinates {([yshift=-342]rback.north west) (3710,-1826) (3600,-1856) (3251,-1930) (2800,-2089) (2197,-2084) ([yshift=-135]map.north east)};
\draw[agg] ([xshift=102]rback.south west) -- ([xshift=85]dsRB.north west);
\draw[agg] ([xshift=77]soundmgr.north west) -- ([xshift=87]dsSM.south west);
\draw[agg] plot[smooth] coordinates {([xshift=108]effectmgr.south west) (3444,-2836) ([yshift=-95]soundmgr.north west)};
\draw[agg] ([xshift=79]resloader.south west) -- ([xshift=47]iresource.north west);
\draw[agg] ([xshift=89]sdecoder.south west) -- ([xshift=98]soundclip.north west);
\draw[agg] ([xshift=99]soundclip.south west) -- ([xshift=107]sptrSC.north west);
\draw[agg] ([xshift=73]anim.south west) -- ([xshift=173]sptrAN.north west);
\draw[agg] plot[smooth] coordinates {([yshift=-216]sptrSC.north west) (2553,-3782) ([xshift=155]semitter.north west)};
\draw[agg] plot[smooth] coordinates {([xshift=86]soundmgr.south west) (3551,-3400) (3422,-3624) (3199,-3775) (2400,-3845) ([xshift=168]semitter.north west)};
\draw[agg] ([xshift=40]sfilter.south west) -- ([xshift=16]semitter.north west);
\draw[agg] plot[smooth] coordinates {([xshift=31]idata.south west) (1921,-3261) (1989,-3390) (2200,-3600) ([xshift=77]semitter.north west)};
\draw[agg] plot[smooth] coordinates {([yshift=-398]semitter.north west) (2052,-4518) ([xshift=125]ssource.north west)};
\draw[agg] plot[smooth] coordinates {([yshift=-187]ptd.north east) (1600,-1010) (2102,-1300) (2215,-1472) (2306,-1730) (2396,-2032) (2577,-2161) (2641,-2333) (2645,-3037) (2680,-3900) (2800,-4300) ([yshift=-72]camera.north east)};
\draw[agg] plot[smooth] coordinates {([xshift=85]sptrAN.south west) (2952,-4133) (camera.north east)};
\draw[agg] plot[smooth] coordinates {([yshift=-399]camera.north west) (2461,-5013) ([xshift=62]mobserver.north west)};
\draw[agg] ([xshift=117]mobserver.north west) -- ([yshift=-416]camera.north west);
\draw[agg] ([xshift=103]camera.south west) -- ([xshift=71]rvisitor.north west);
\draw[agg] ([xshift=87]ssource.south west) -- ([xshift=91]sclisten.north west);
\draw[agg] ([xshift=48]sclisten.north west) -- ([xshift=80]ssource.south west);
\end{pgfonlayer}
\end{tikzpicture}
\end{document}
